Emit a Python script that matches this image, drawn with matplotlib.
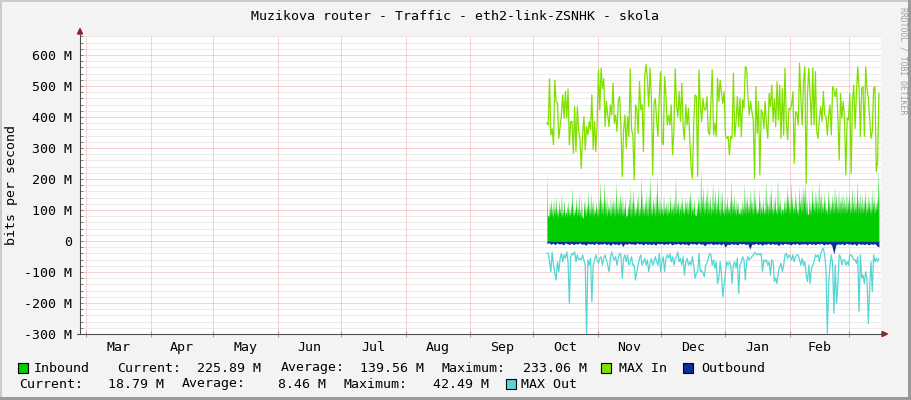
import numpy as np
import pandas as pd
import matplotlib
matplotlib.use("Agg")
import matplotlib.pyplot as plt
import matplotlib.dates as mdates
from matplotlib.patches import Rectangle, Polygon
from matplotlib.lines import Line2D

# ---- data (M bits/s) ----
inbound_peak = [
    226, 84, 127, 137, 111, 143, 116, 148, 105, 137,
    111, 154, 105, 137, 95, 116, 132, 105, 127, 175,
    116, 105, 143, 116, 154, 105, 137, 73, 137, 127,
    121, 164, 121, 159, 127, 137, 105, 132, 111, 143,
    197, 148, 137, 197, 143, 154, 121, 116, 148, 127,
    143, 137, 191, 121, 143, 159, 137, 148, 116, 143,
    84, 121, 143, 180, 137, 170, 132, 116, 143, 159,
    116, 213, 154, 121, 137, 159, 143, 164, 213, 121,
    148, 127, 159, 213, 127, 148,
    127, 111, 148, 116, 127, 137, 105, 154, 132, 121,
    137, 207, 127, 137, 121, 132, 148, 111, 143, 127,
    137, 148, 170, 143, 116, 137, 84, 121, 148, 137,
    229, 148, 180, 137, 159, 180, 137, 154, 116, 191,
    143, 170, 137, 180, 116, 159, 164, 105, 143, 121,
    148, 116, 137, 197, 137, 154, 116, 137, 127, 95,
    111, 137, 121, 186, 137, 154, 121, 170, 143, 132,
    180, 148, 121, 105, 170, 137, 121, 143, 105, 197,
    143, 121, 159, 180, 116, 143,
    148, 105, 202, 127, 143, 111, 105, 137, 143, 180,
    154, 127, 191, 148, 116, 164, 143, 105, 180, 137,
    159, 186, 164, 197, 137, 84, 143, 127, 180, 137,
    164, 154, 137, 197, 148, 164, 127, 159, 137, 100,
    170, 143, 127, 154, 137, 180, 154, 127, 170, 137,
    148, 159, 143, 127, 164, 137, 159, 127, 180, 137,
    154, 127, 197, 137, 159, 127, 148, 137, 170, 127,
    154, 137, 127, 170, 137, 148, 127, 143, 226,
]
inbound_dip = [
    80, 74, 82, 77, 70, 84, 76, 79, 72, 85,
    78, 73, 81, 76, 88, 74, 80, 77, 83, 71,
    79, 86, 75, 82, 78, 70, 84, 77, 81, 74,
    87, 79, 76, 83, 72, 80, 85, 77, 74, 82,
    78, 88, 75, 81, 79, 73, 86, 80, 76, 84,
    78, 72, 83, 79, 87, 75, 81, 77, 84, 74,
    80, 86, 78, 73, 82, 79, 76, 85, 80, 74,
    83, 78, 88, 76, 81, 79, 73, 85, 80, 77,
    84, 75, 82, 79, 86, 78,
    85, 79, 90, 82, 76, 88, 84, 80, 92, 78,
    86, 83, 89, 77, 94, 81, 85, 79, 91, 84,
    80, 88, 76, 93, 82, 87, 79, 85, 90, 78,
    84, 92, 81, 86, 77, 89, 83, 80, 95, 82,
    87, 79, 91, 84, 78, 88, 85, 81, 93, 80,
    86, 90, 77, 84, 89, 82, 79, 92, 85, 83,
    88, 78, 86, 91, 80, 84, 94, 82, 87, 79,
    90, 83, 85, 88, 77, 92, 84, 81, 89, 86,
    80, 93, 83, 87, 79, 90,
    88, 82, 94, 86, 80, 97, 84, 90, 83, 99,
    87, 81, 92, 85, 96, 83, 89, 80, 94, 86,
    91, 84, 98, 82, 88, 93, 85, 80, 95, 87,
    90, 83, 97, 86, 81, 92, 88, 84, 99, 85,
    90, 82, 94, 87, 83, 96, 89, 85, 92, 81,
    88, 95, 84, 90, 86, 98, 83, 91, 87, 82,
    94, 88, 85, 97, 84, 90, 86, 93, 81, 89,
    95, 87, 83, 92, 88, 85, 96, 90, 100,
]
max_in = [
    380, 374, 523, 342, 361, 310, 519, 450, 444, 331,
    369, 406, 471, 396, 482, 396, 490, 310, 385, 385,
    283, 433, 288, 433, 353, 331, 234, 342, 401, 294,
    369, 342, 385, 358, 471, 294, 385, 288, 385, 552,
    423, 557, 492, 523, 369, 450, 406, 369, 439, 406,
    509, 380, 406, 353, 455, 466, 363, 208, 358, 406,
    299, 401, 337, 555, 358, 342, 197, 439, 423, 347,
    514, 423, 439, 288, 536, 570, 519, 433, 557, 460,
    213, 444,
    460, 385, 337, 471, 546, 320, 310, 530, 471, 374,
    406, 374, 439, 278, 353, 555, 439, 401, 482, 385,
    509, 369, 326, 439, 374, 428, 331, 234, 202, 374,
    471, 466, 208, 552, 439, 385, 460, 423, 423, 466,
    353, 342, 450, 552, 342, 380, 337, 525, 450, 519,
    476, 444, 482, 342, 331, 337, 278, 337, 331, 541,
    337, 385, 466, 369, 460, 337, 455, 428, 562, 557,
    466, 406, 450, 417, 390, 202, 498, 347, 450, 213,
    423, 412, 363, 450, 374, 331, 476, 433, 503,
    385, 460, 369, 514, 390, 503, 331, 492, 342, 557,
    385, 326, 428, 423, 439, 482, 251, 417, 412, 374,
    573, 460, 374, 514, 562, 186, 471, 557, 471, 374,
    557, 374, 546, 353, 331, 396, 433, 385, 482, 406,
    401, 342, 406, 439, 342, 498, 487, 466, 492, 396,
    261, 476, 396, 450, 396, 213, 396, 390, 476, 218,
    450, 503, 363, 476, 562, 492, 337, 492, 498, 337,
    562, 492, 460, 396, 331, 353, 492, 498, 224, 256,
    476,
]
outbound = [
    9, 5, 11, 7, 12, 6, 10, 8, 13, 6, 9, 11, 7, 12, 8, 10, 6, 11, 9, 14,
    7, 10, 8, 12, 6, 11, 9, 10, 7, 12, 8, 15, 7, 11, 9, 13, 6, 18, 8, 11,
    7, 10, 9, 12, 6, 10, 8, 13, 7, 11, 9, 12, 8, 14, 7,
    10, 7, 12, 8, 11, 6, 13, 9, 10, 7, 12, 8, 11, 9, 14, 7, 10, 8, 12, 6,
    11, 9, 16, 8, 10, 7, 12, 9, 11, 8, 13, 7, 20, 10, 12, 8, 11, 9, 13, 7,
    10, 8, 12, 9, 26, 10, 11, 7, 12, 8, 14, 9, 11, 7, 12, 8,
    11, 9, 15, 8, 12, 7, 10, 9, 13, 8, 11, 7, 12, 9, 10, 8, 13, 7, 11, 9,
    12, 8, 10, 7, 13, 9, 11, 8, 14, 42, 12, 9, 11, 8, 13, 7, 10, 9, 12, 8,
    15, 7, 11, 9, 12, 8, 13, 9, 11, 8, 16, 19,
]
max_out = [
    -40, -40, -67, -99, -37, -78, -104, -126, -67, -99,
    -56, -40, -67, -45, -56, -35, -67, -201, -51, -40,
    -45, -35, -67, -45, -61, -56, -61, -45, -61, -78,
    -305, -61, -78, -56, -196, -78, -61, -45, -61, -72,
    -56, -51, -78, -56, -45, -61, -78, -99, -56, -35,
    -51, -61, -51, -78, -56, -40, -45, -120, -56, -45,
    -67, -45, -78, -67, -51, -78, -78, -126, -99, -78,
    -56, -45, -78, -67, -56, -78, -61, -99, -72, -56,
    -78, -67, -51, -67, -78, -40, -99,
    -67, -51, -99, -56, -45, -56, -40, -67, -51, -78,
    -56, -51, -35, -67, -56, -78, -51, -110, -67, -56,
    -78, -67, -78, -51, -78, -120, -104, -99, -40, -99,
    -94, -104, -115, -78, -72, -56, -40, -45, -78, -61,
    -88, -67, -137, -120, -67, -110, -180, -142, -99, -67,
    -78, -67, -78, -137, -78, -67, -88, -56, -169, -78,
    -67, -51, -61, -126, -67, -51, -61, -56, -51, -45,
    -37, -40, -45, -40, -45, -40, -99, -61, -67, -61,
    -78, -67, -110, -61, -67, -131,
    -120, -137, -99, -83, -72, -99, -78, -45, -40, -56,
    -45, -51, -61, -45, -67, -51, -45, -45, -61, -78,
    -56, -78, -67, -110, -131, -78, -137, -88, -78, -67,
    -45, -51, -45, -67, -40, -29, -24, -45, -88, -298,
    -142, -78, -45, -72, -233, -78, -201, -137, -45, -51,
    -78, -61, -61, -78, -67, -78, -45, -45, -51, -61,
    -61, -72, -51, -228, -45, -120, -110, -137, -99, -120,
    -266, -153, -67, -163, -45, -67, -56, -67, -56,
]
y_ticks = [-300, -200, -100, 0, 100, 200, 300, 400, 500, 600]
month_labels = ["Mar", "Apr", "May", "Jun", "Jul", "Aug", "Sep",
                "Oct", "Nov", "Dec", "Jan", "Feb"]

title = "Muzikova router - Traffic - eth2-link-ZSNHK - skola"

# ---- layout ----
W, H = 911, 400
BACK = "#F3F3F3"
MGRID = "#F0A4A4"
GRID = "#D6D6D6"
C_IN, C_MAXIN, C_OUT, C_MAXOUT = "#00CC00", "#7FE000", "#0A2F96", "#55D6D3"


def fx(x):
    return x / W


def fy(y):
    return 1 - y / H


plt.rcParams["font.family"] = "DejaVu Sans Mono"
FS = 9.5

fig = plt.figure(figsize=(W / 100, H / 100), dpi=100, facecolor=BACK)
ax = fig.add_axes([fx(80), fy(334), fx(881) - fx(80), fy(36) - fy(334)])
ax.set_facecolor("white")

view_start = pd.Timestamp("2014-02-26 03:00")
view_end = pd.Timestamp("2015-03-16 12:00")
data_start = pd.Timestamp("2014-10-07 14:00")
data_end = pd.Timestamp("2015-03-15 12:00")

inbound = np.empty(2 * len(inbound_peak))
inbound[0::2] = inbound_peak
inbound[1::2] = inbound_dip
t_in = pd.date_range(data_start, data_end, periods=len(inbound))
t_maxin = pd.date_range(data_start, data_end, periods=len(max_in))
t_out = pd.date_range(data_start, data_end, periods=len(outbound))
t_maxout = pd.date_range(data_start, data_end, periods=len(max_out))

ax.fill_between(t_in, 0, inbound, color=C_IN, lw=0, zorder=2)
ax.plot(t_maxin, max_in, color=C_MAXIN, lw=0.9, zorder=3)
ax.fill_between(t_out, 0, -np.array(outbound), color=C_OUT, lw=0, zorder=2)
ax.plot(t_maxout, max_out, color=C_MAXOUT, lw=0.9, zorder=3)

ax.set_xlim(view_start, view_end)
ax.set_ylim(-300, 661)

# y axis
ax.set_yticks(y_ticks)
ax.set_yticklabels([("0" if v == 0 else f"{v} M") for v in y_ticks], fontsize=FS)
ax.set_yticks(np.arange(-300, 661, 20), minor=True)

# x axis: month grid at month starts, labels at mid-month
month_starts = pd.date_range("2014-03-01", "2015-03-01", freq="MS")
mids = [a + (b - a) / 2 for a, b in zip(month_starts[:-1], month_starts[1:])]
ax.xaxis.set_major_locator(mdates.MonthLocator())
ax.xaxis.set_major_formatter(plt.NullFormatter())
ax.set_xticks(mids, minor=True)
ax.set_xticklabels(month_labels, minor=True, fontsize=FS)

dots = (0, (1, 1))
ax.grid(which="major", axis="both", color=MGRID, linestyle=dots, lw=0.72, zorder=1)
ax.grid(which="minor", axis="y", color=GRID, linestyle=dots, lw=0.72, zorder=0)
ax.set_axisbelow(True)

ax.tick_params(axis="y", which="both", direction="in", length=2, width=0.7,
               color="#808080", pad=5.5)
ax.tick_params(axis="x", which="major", direction="inout", length=4, width=0.7,
               color="#E08080")
ax.tick_params(axis="x", which="minor", length=0, pad=5)
for s in ax.spines.values():
    s.set_visible(False)

# axis lines with arrows
fig.add_artist(Line2D([fx(80), fx(80)], [fy(334), fy(33)], color="#505050", lw=0.8))
fig.add_artist(Line2D([fx(77), fx(884)], [fy(334), fy(334)], color="#505050", lw=0.8))
fig.add_artist(Polygon([[fx(77.5), fy(34)], [fx(82.5), fy(34)], [fx(80), fy(28.5)]],
                       closed=True, color="#A01818"))
fig.add_artist(Polygon([[fx(882), fy(331.5)], [fx(882), fy(336.5)], [fx(887.5), fy(334)]],
                       closed=True, color="#A01818"))

# texts
fig.text(fx(455), fy(16), title, ha="center", va="center", fontsize=FS)
fig.text(fx(12), fy(185), "bits per second", rotation=90, ha="center",
         va="center", fontsize=FS)
fig.text(fx(903), fy(61), "RRDTOOL / TOBI OETIKER", rotation=270, ha="center",
         va="center", fontsize=5.9, color="#A0A0A0")

# legend
row1, row2 = 368, 384
for x0, y0, col in [(18, row1, C_IN), (601, row1, C_MAXIN),
                    (683, row1, C_OUT), (506, row2, C_MAXOUT)]:
    fig.add_artist(Rectangle((fx(x0), fy(y0 + 5)), 10 / W, 10 / H,
                             facecolor=col, edgecolor="black", lw=0.8))
legend_items = [
    (34, row1, "Inbound"), (117, row1, "Current:"), (197, row1, "225.89 M"),
    (281, row1, "Average:"), (360, row1, "139.56 M"), (442, row1, "Maximum:"),
    (523, row1, "233.06 M"), (619, row1, "MAX In"), (701, row1, "Outbound"),
    (19, row2, "Current:"), (108, row2, "18.79 M"), (182, row2, "Average:"),
    (278, row2, "8.46 M"), (344, row2, "Maximum:"), (433, row2, "42.49 M"),
    (521, row2, "MAX Out"),
]
for x0, y0, s in legend_items:
    fig.text(fx(x0), fy(y0), s, ha="left", va="center", fontsize=FS)

# 3d frame
fig.add_artist(Rectangle((0, fy(2)), 1, 2 / H, color="#CBCBCB", lw=0))
fig.add_artist(Rectangle((0, 0), 2 / W, 1, color="#CBCBCB", lw=0))
fig.add_artist(Rectangle((0, 0), 1, 3 / H, color="#999999", lw=0))
fig.add_artist(Rectangle((fx(908), 0), 3 / W, 1, color="#999999", lw=0))

fig.savefig("out.png", dpi=100, facecolor=BACK)
